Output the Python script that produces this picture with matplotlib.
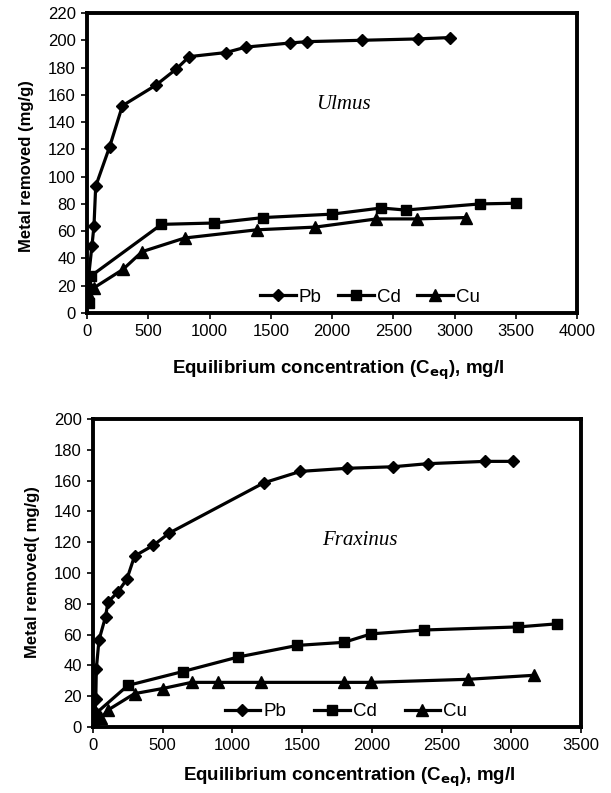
import matplotlib
matplotlib.use("Agg")
import matplotlib.pyplot as plt

# ---- Ulmus (top) ----
u_pb_x = [5, 40, 57, 71, 185, 289, 561, 730, 834, 1134, 1297, 1657, 1795, 2245, 2700, 2963]
u_pb_y = [20, 49, 64, 93, 122, 152, 167, 179, 188, 191, 195, 198, 199, 200, 201, 202]
u_cd_x = [20, 30, 608, 1039, 1440, 2000, 2401, 2600, 3208, 3500]
u_cd_y = [7, 27, 65, 66, 70, 72.5, 77, 75.5, 80, 80.5]
u_cu_x = [10, 57, 294, 450, 798, 1385, 1864, 2363, 2695, 3091]
u_cu_y = [15, 18.5, 32, 45, 55, 61, 63, 69, 69, 70]

# ---- Fraxinus (bottom) ----
f_pb_x = [5, 15, 20, 24, 43, 90, 107, 181, 243, 298, 433, 548, 1226, 1488, 1821, 2152, 2400, 2812, 3011]
f_pb_y = [5, 10, 18, 38, 56.5, 71.6, 81, 88, 96, 111, 118, 126, 158.6, 166, 168, 169, 171, 172.5, 172.5]
f_cd_x = [5, 10, 250, 643, 1043, 1466, 1800, 1996, 2375, 3050, 3326]
f_cd_y = [4, 8, 27, 36, 45.5, 53, 55, 60.5, 63, 65, 67]
f_cu_x = [5, 60, 107, 298, 500, 707, 898, 1202, 1800, 1996, 2691, 3165]
f_cu_y = [2, 6, 11, 21.7, 25, 29, 29, 29, 29, 29, 31, 33.6]

series_labels = ["Pb", "Cd", "Cu"]

plt.rcParams['font.family'] = ['Liberation Sans', 'DejaVu Sans']

fig = plt.figure(figsize=(6.11, 7.93), dpi=100)
ax1 = fig.add_axes([0.1424, 0.6053, 0.802, 0.3783])
ax2 = fig.add_axes([0.1522, 0.0832, 0.7987, 0.3884])

def style(ax, xmax, ymax, ylabel, name, nx, ny, xl_pos, yl_pos):
    ax.set_xlim(0, xmax)
    ax.set_ylim(0, ymax)
    ax.set_xticks(range(0, xmax + 1, 500))
    ax.set_yticks(range(0, ymax + 1, 20))
    ax.tick_params(axis='both', labelsize=12, direction='out', length=4, width=1.2, pad=4)
    for s in ax.spines.values():
        s.set_linewidth(2.8)
    ax.set_ylabel(ylabel, fontsize=12, fontweight='bold')
    ax.yaxis.set_label_coords(*yl_pos)
    ax.yaxis.label.set_va('center')
    ax.set_xlabel("Equilibrium concentration (C$_{\\mathbf{eq}}$), mg/l", fontsize=13.5,
                  fontweight='bold')
    ax.xaxis.set_label_coords(*xl_pos)
    ax.xaxis.label.set_va('center')
    ax.text(nx, ny, name, fontsize=15, fontstyle='italic', family='Liberation Serif',
            ha='center', va='center')

kw = dict(color='black', linewidth=2.3)
for ax, data in [(ax1, [(u_pb_x, u_pb_y), (u_cd_x, u_cd_y), (u_cu_x, u_cu_y)]),
                 (ax2, [(f_pb_x, f_pb_y), (f_cd_x, f_cd_y), (f_cu_x, f_cu_y)])]:
    ax.plot(*data[0], marker='D', markersize=6, label=series_labels[0], **kw)
    ax.plot(*data[1], marker='s', markersize=7.5, label=series_labels[1], **kw)
    ax.plot(*data[2], marker='^', markersize=8, label=series_labels[2], **kw)

style(ax1, 4000, 220, "Metal removed (mg/g)", "Ulmus", 2095, 153, (0.513, -0.19), (-0.123, 0.49))
style(ax2, 3500, 200, "Metal removed( mg/g)", "Fraxinus", 1912, 121, (0.525, -0.162), (-0.123, 0.503))

ax1.legend(loc='center', bbox_to_anchor=(0.577, 0.053), ncol=3, frameon=False,
           fontsize=13.5, handlelength=1.9, handletextpad=0.15, columnspacing=0.9)
ax2.legend(loc='center', bbox_to_anchor=(0.518, 0.049), ncol=3, frameon=False,
           fontsize=13.5, handlelength=1.9, handletextpad=0.15, columnspacing=1.5)

fig.savefig("out.png", dpi=100)
